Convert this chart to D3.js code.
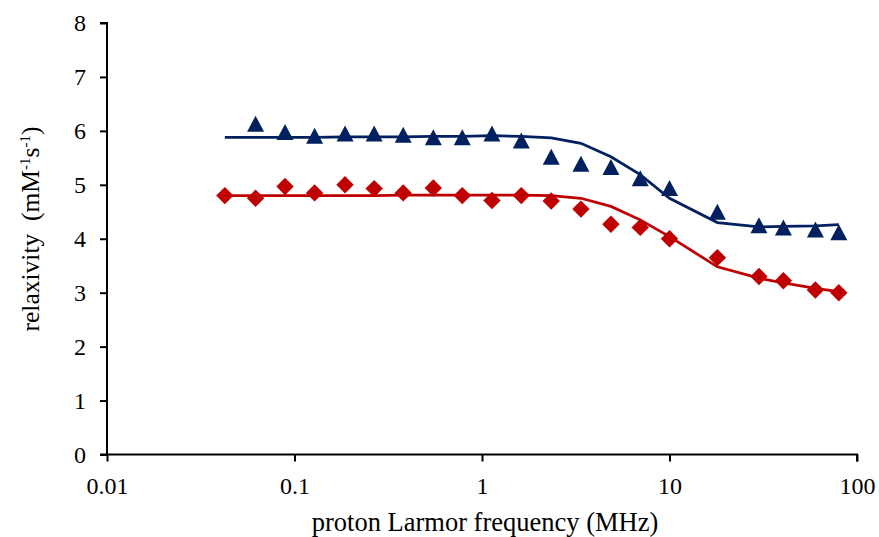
<!DOCTYPE html>
<html><head><meta charset="utf-8">
<script src="https://cdn.jsdelivr.net/npm/d3@7"></script>
<style>body{margin:0;background:#fff;} svg{display:block;}</style>
</head><body>
<script>
const freq = [0.0425, 0.062, 0.089, 0.128, 0.186, 0.266, 0.38, 0.55, 0.785, 1.13, 1.62, 2.34, 3.37, 4.87, 6.98, 10.0, 18.0, 30.0, 40.5, 60.0, 80.0];
const blueFreq = freq.slice(1);
const blueData = [6.13, 5.98, 5.91, 5.95, 5.95, 5.93, 5.88, 5.88, 5.95, 5.82, 5.52, 5.39, 5.33, 5.12, 4.94, 4.50, 4.25, 4.21, 4.17, 4.12];
const redData = [4.80, 4.75, 4.97, 4.85, 5.00, 4.93, 4.85, 4.94, 4.80, 4.71, 4.80, 4.70, 4.55, 4.27, 4.21, 4.00, 3.65, 3.30, 3.22, 3.05, 3.00];
const blueFit = [5.88, 5.88, 5.88, 5.88, 5.89, 5.89, 5.89, 5.90, 5.90, 5.91, 5.90, 5.87, 5.77, 5.52, 5.19, 4.75, 4.30, 4.22, 4.23, 4.24, 4.26];
const redFit = [4.80, 4.80, 4.80, 4.80, 4.80, 4.80, 4.81, 4.81, 4.81, 4.81, 4.81, 4.80, 4.75, 4.60, 4.35, 4.04, 3.48, 3.27, 3.18, 3.08, 3.02];
const xTicks = [0.01, 0.1, 1, 10, 100];
const xTickLabels = ["0.01", "0.1", "1", "10", "100"];
const yTicks = [0, 1, 2, 3, 4, 5, 6, 7, 8];

const W = 879, H = 537;
const BLUE = "#002060", RED = "#C00000";
const FONT = '"Liberation Serif"';

const svg = d3.select("body").append("svg").attr("width", W).attr("height", H)
  .style("font-family", FONT);
const x = d3.scaleLog().domain([0.01, 100]).range([107, 857]);
const y = d3.scaleLinear().domain([0, 8]).range([454.5, 23]);

// axes
const yAxis = d3.axisLeft(y).tickValues(yTicks).tickSize(7).tickPadding(14).tickFormat(d3.format("d"));
const gy = svg.append("g").attr("transform", `translate(${x.range()[0]},0)`).call(yAxis);
const xAxis = d3.axisBottom(x).tickValues(xTicks).tickSize(7).tickPadding(15).tickFormat((d, i) => xTickLabels[i]);
const gx = svg.append("g").attr("transform", `translate(0,${y(0)})`).call(xAxis);
[gx, gy].forEach(g => {
  g.attr("font-family", null).attr("font-size", null)
   .style("font-family", FONT).style("font-size", "24px");
  g.select(".domain").attr("stroke", "#000").attr("stroke-width", 2);
  g.selectAll(".tick line").attr("stroke", "#000").attr("stroke-width", 2);
  g.selectAll(".tick text").attr("fill", "#000").style("font-family", FONT).style("font-size", "24px");
});
gx.select(".domain").attr("d", `M${x.range()[0] - 7},0H${x.range()[1]}V7`);
gy.select(".domain").attr("d", `M-7,${y(8)}H0V${y(0)}`);

// fit lines
const line = d3.line().x(d => x(d[0])).y(d => y(d[1]));
svg.append("path").datum(freq.map((f, i) => [f, blueFit[i]])).attr("d", line)
  .attr("fill", "none").attr("stroke", BLUE).attr("stroke-width", 2.75);
svg.append("path").datum(freq.map((f, i) => [f, redFit[i]])).attr("d", line)
  .attr("fill", "none").attr("stroke", RED).attr("stroke-width", 2.75);

// markers
const tri = (w, h) => `M0,${-h/2}L${w/2},${h/2}L${-w/2},${h/2}Z`;
const dia = (r) => `M0,${-r}L${r},0L0,${r}L${-r},0Z`;
svg.append("g").selectAll("path").data(blueFreq.map((f, i) => [f, blueData[i]])).join("path")
  .attr("transform", d => `translate(${x(d[0])},${y(d[1])})`)
  .attr("d", tri(17, 16)).attr("fill", BLUE);
svg.append("g").selectAll("path").data(freq.map((f, i) => [f, redData[i]])).join("path")
  .attr("transform", d => `translate(${x(d[0])},${y(d[1])})`)
  .attr("d", dia(8.7)).attr("fill", RED);

// axis titles
svg.append("text").attr("x", 485).attr("y", 531).attr("text-anchor", "middle")
  .style("font-family", FONT).style("font-size", "26.5px").attr("fill", "#000")
  .text("proton Larmor frequency (MHz)");
const yt = svg.append("text").attr("transform", "translate(39,229) rotate(-90)").attr("text-anchor", "middle")
  .style("font-family", FONT).style("font-size", "25.5px").attr("fill", "#000")
  .style("white-space", "pre");
yt.append("tspan").text("relaxivity  (mM");
yt.append("tspan").attr("dy", -9).style("font-size", "15px").text("-1");
yt.append("tspan").attr("dy", 9).text("s");
yt.append("tspan").attr("dy", -9).style("font-size", "15px").text("-1");
yt.append("tspan").attr("dy", 9).text(")");
</script>
</body></html>
